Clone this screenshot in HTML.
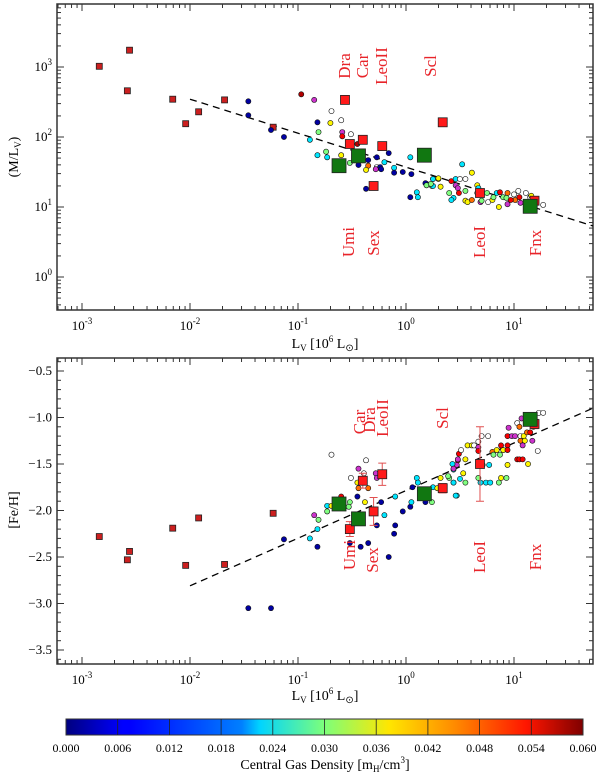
<!DOCTYPE html>
<html><head><meta charset="utf-8"><style>
html,body{margin:0;padding:0;background:#fff;}
svg{display:block;font-family:"Liberation Serif",serif;}
</style></head><body>
<svg id="chart" width="600" height="773" viewBox="0 0 600 773" xmlns="http://www.w3.org/2000/svg">
<defs>
<linearGradient id="jet" x1="0" x2="1" y1="0" y2="0">
<stop offset="0" stop-color="#00007f"/><stop offset="0.11" stop-color="#0000ff"/><stop offset="0.125" stop-color="#0000ff"/>
<stop offset="0.34" stop-color="#0080ff"/><stop offset="0.375" stop-color="#00d4ff"/><stop offset="0.5" stop-color="#7dff7a"/>
<stop offset="0.625" stop-color="#ffe600"/><stop offset="0.75" stop-color="#ff8c00"/><stop offset="0.89" stop-color="#ff1600"/><stop offset="1" stop-color="#7f0000"/>
</linearGradient>
</defs>
<g id="top"></g>
<g id="bot"></g>
<g id="cbar"></g>
</svg>
<script>
// ---------- data ----------
const smallLogL = [-2.84,-2.56,-2.58,-2.16,-2.04,-1.92,-1.68,-1.23];
const smallLogML = [3.01,3.24,2.66,2.54,2.19,2.36,2.53,2.14];
const smallFe = [-2.28,-2.44,-2.53,-2.19,-2.59,-2.08,-2.58,-2.03];
const galNames = ["Dra","Umi","Car","LeoII","Scl","Sex","LeoI","Fnx"];
const galLogL = [-0.565,-0.52,-0.40,-0.22,0.34,-0.30,0.685,1.19];
const galLogML = [2.53,1.90,1.96,1.87,2.21,1.30,1.20,1.09];
const galFe = [null,-2.20,-1.68,-1.61,-1.76,-2.01,-1.50,-1.07];
const galFeErr = [0,0.08,0.08,0.12,0.05,0.15,0.40,0.05];
const simLogL = [-0.62,-0.44,0.17,1.15];
const simLogML = [1.59,1.73,1.74,1.01];
const simFe = [-1.93,-2.09,-1.82,-1.02];
const fitTopX = [-2.0,1.73]; const fitTopY = [2.54,0.73];
const fitBotX = [-2.0,1.73]; const fitBotY = [-2.81,-0.90];
// model galaxies: density >0.06 means 0.07=magenta, 0.08=open
const mTopL = [-0.97,-0.85,-0.69,-0.60,-0.82,-0.70,-1.13,-0.81,-0.59,-0.59,-0.51,-0.89,-0.45,-0.82,-0.74,-0.73,-0.60,-0.52,-0.44,-0.35,-0.35,-0.37,-0.27,-0.27,-0.24,-0.28,-0.23,-0.20,-0.16,-0.11,-0.11,-0.03,0.05,0.04,-0.37,0.19,0.24,0.25,0.25,0.30,0.10,0.11,0.04,-1.46,-1.46,-1.25,
0.52,0.61,0.18,0.19,0.23,0.25,0.30,0.32,0.42,0.46,0.50,0.55,0.46,0.48,0.49,0.40,0.55,0.44,0.42,0.55,0.57,0.61,0.66,0.67,0.66,0.69,0.70,0.75,0.76,0.80,0.81,0.84,0.87,0.86,0.90,0.94,0.93,0.94,1.01,1.04,1.05,1.06,1.11,1.15,1.16,1.27,0.97,1.00];
const mTopML = [2.61,2.53,2.37,2.24,2.21,2.20,2.00,2.07,2.07,2.01,2.04,1.96,1.90,1.74,1.79,1.71,1.74,1.63,1.60,1.67,1.59,1.53,1.71,1.57,1.57,1.54,1.54,1.64,1.77,1.56,1.49,1.50,1.47,1.71,1.26,1.33,1.30,1.30,1.40,1.40,1.21,1.14,1.14,2.51,2.31,2.10,
1.61,1.49,1.34,1.31,1.33,1.40,1.41,1.29,1.37,1.40,1.40,1.40,1.31,1.27,1.20,1.20,1.23,1.13,1.10,1.09,1.07,1.10,1.31,1.27,1.20,1.07,1.09,1.20,1.07,1.10,1.14,1.20,1.21,1.00,1.14,1.20,1.13,1.04,1.10,1.23,1.14,1.06,1.20,1.14,1.16,1.03,1.10,1.18];
const mTopD = [0.057,0.07,0.08,0.08,0.002,0.038,0.002,0.030,0.07,0.053,0.08,0.021,0.057,0.021,0.030,0.021,0.038,0.030,0.002,0.002,0.046,0.038,0.002,0.08,0.002,0.07,0.002,0.021,0.002,0.021,0.002,0.002,0.002,0.021,0.002,0.002,0.030,0.021,0.021,0.038,0.021,0.021,0.002,0.002,0.002,0.002,
0.021,0.038,0.002,0.030,0.030,0.021,0.038,0.038,0.053,0.021,0.08,0.08,0.07,0.07,0.053,0.030,0.030,0.021,0.021,0.038,0.038,0.046,0.038,0.021,0.08,0.07,0.030,0.030,0.08,0.038,0.030,0.021,0.053,0.038,0.030,0.046,0.030,0.07,0.046,0.08,0.053,0.07,0.08,0.08,0.038,0.08,0.053,0.08];
const mBotL = [-0.69,-0.44,-0.37,-0.39,-0.51,-0.28,-0.27,-0.45,-0.44,-0.35,-0.73,-0.69,-0.73,-0.52,-0.53,-0.60,-0.85,-0.81,-0.82,-0.89,-0.82,-0.45,-0.38,-0.23,-0.20,-0.27,-0.10,-0.10,-0.11,-0.52,-0.42,-0.35,-0.16,-0.03,0.04,0.05,0.06,0.10,0.11,0.18,0.24,0.25,0.29,0.32,0.40,0.44,0.47,0.39,0.44,0.47,0.48,-1.46,-1.25,-1.13,
0.46,0.44,0.55,0.53,0.50,0.43,0.44,0.48,0.49,0.51,0.55,0.57,0.61,0.63,0.67,0.70,0.76,0.67,0.67,0.67,0.69,0.74,0.78,0.71,0.77,0.80,0.81,0.84,0.87,0.90,0.88,0.94,0.94,0.94,0.86,0.88,0.93,1.03,1.05,1.08,1.13,0.94,0.98,1.01,1.06,1.09,0.95,1.03,1.05,1.07,1.12,1.15,1.06,1.10,1.08,1.17,1.22,1.23,1.27,1.18];
const mBotFe = [-1.40,-1.55,-1.46,-1.60,-1.65,-1.60,-1.65,-1.70,-1.76,-1.76,-1.95,-1.95,-2.01,-1.91,-1.96,-1.85,-2.05,-2.10,-2.20,-2.30,-2.39,-1.85,-1.91,-1.91,-2.05,-2.16,-1.85,-2.16,-2.25,-2.35,-2.39,-2.35,-2.50,-2.01,-1.96,-1.91,-1.75,-1.65,-1.70,-1.91,-1.91,-1.75,-1.76,-1.65,-1.65,-1.70,-1.84,-1.63,-1.56,-1.51,-1.46,-3.05,-3.05,-2.31,
-1.84,-1.70,-1.70,-1.60,-1.66,-1.50,-1.55,-1.45,-1.39,-1.35,-1.45,-1.30,-1.30,-1.30,-1.26,-1.20,-1.20,-1.32,-1.36,-1.65,-1.70,-1.70,-1.70,-1.51,-1.51,-1.37,-1.40,-1.35,-1.40,-1.35,-1.30,-1.30,-1.35,-1.51,-1.70,-1.65,-1.65,-1.45,-1.45,-1.45,-1.50,-1.20,-1.20,-1.20,-1.20,-1.20,-1.11,-1.06,-1.10,-1.01,-1.16,-1.16,-1.25,-1.25,-1.30,-1.25,-1.36,-0.95,-0.95,-1.10];
const mBotD = [0.08,0.07,0.08,0.08,0.08,0.07,0.07,0.038,0.046,0.046,0.021,0.038,0.030,0.030,0.030,0.053,0.07,0.030,0.021,0.021,0.002,0.002,0.038,0.002,0.021,0.002,0.021,0.002,0.002,0.002,0.002,0.002,0.002,0.002,0.002,0.021,0.002,0.021,0.021,0.002,0.030,0.021,0.038,0.038,0.030,0.021,0.021,0.030,0.021,0.07,0.053,0.002,0.002,0.002,
0.021,0.021,0.030,0.038,0.021,0.021,0.07,0.07,0.053,0.08,0.038,0.038,0.038,0.08,0.08,0.08,0.08,0.07,0.053,0.030,0.021,0.021,0.021,0.030,0.021,0.046,0.030,0.038,0.030,0.038,0.053,0.053,0.053,0.038,0.030,0.038,0.030,0.053,0.053,0.053,0.038,0.053,0.07,0.07,0.08,0.038,0.07,0.08,0.046,0.07,0.046,0.053,0.046,0.038,0.07,0.07,0.08,0.08,0.08,0.08];
const cbTicks = ["0.000","0.006","0.012","0.018","0.024","0.030","0.036","0.042","0.048","0.054","0.060"];

// ---------- helpers ----------
const NS="http://www.w3.org/2000/svg";
function mk(tag,attrs,parent){const e=document.createElementNS(NS,tag);for(const k in attrs)e.setAttribute(k,attrs[k]);parent.appendChild(e);return e;}
const X0=57,X1=593;
const xs = lx => 82 + (lx+3)*108;
const yTop = ly => 67 + (3-ly)*70;
const yBot = fe => 371 + (-0.5-fe)*93;
function jet(v){const t=Math.max(0,Math.min(1,v/0.06));
 const f=x=>Math.max(0,Math.min(1,x));
 const r=f(1.5-Math.abs(4*t-3)),g=f(1.5-Math.abs(4*t-2)),b=f(1.5-Math.abs(4*t-1));
 return `rgb(${Math.round(r*255)},${Math.round(g*255)},${Math.round(b*255)})`;}
function dcol(d){ if(d>0.075) return "#ffffff"; if(d>0.065) return "#cc33cc"; return jet(d);}

function axes(g,y0,y1,yTicks,yLabelFn,yMinor,xlabY){
 const fr=mk('rect',{x:X0,y:y0,width:X1-X0,height:y1-y0,fill:'none',stroke:'#333',"stroke-width":1.5},g);
 
 for(let d=-4;d<=1;d++){for(let m=1;m<10;m++){const lx=d+Math.log10(m);const x=xs(lx);if(x<X0||x>X1)continue;
   const L=m===1?7:4;
   mk('line',{x1:x,x2:x,y1:y1,y2:y1-L,stroke:'#333'},g);mk('line',{x1:x,x2:x,y1:y0,y2:y0+L,stroke:'#333'},g);
   if(m===1){const t=mk('text',{x:x,y:xlabY,"text-anchor":"middle","font-size":13},g);t.innerHTML='10<tspan dy="-6" font-size="9">'+d+'</tspan>';
   }}}
 yMinor.forEach(y=>{mk('line',{x1:X0,x2:X0+4,y1:y,y2:y,stroke:'#333'},g);mk('line',{x1:X1,x2:X1-4,y1:y,y2:y,stroke:'#333'},g);});
 yTicks.forEach((v,i)=>{const y=yLabelFn.pos(v);mk('line',{x1:X0,x2:X0+7,y1:y,y2:y,stroke:'#333'},g);mk('line',{x1:X1,x2:X1-7,y1:y,y2:y,stroke:'#333'},g);
   const t=mk('text',{x:X0-5,y:y+4,"text-anchor":"end","font-size":13},g);t.innerHTML=yLabelFn.lab(v);
   });
}
function circles(g,L,V,D,ys){L.forEach((l,i)=>{const c=mk('circle',{cx:xs(l),cy:ys(V[i]),r:2.6,fill:dcol(D[i]),stroke:'#111',"stroke-width":0.6},g);
 });}
function squares(g,L,V,ys,s,fill,name){L.forEach((l,i)=>{if(V[i]==null)return;const r=mk('rect',{x:xs(l)-s/2,y:ys(V[i])-s/2,width:s,height:s,fill:fill,stroke:'#222',"stroke-width":0.8},g);
 });}
function dash(g,X,Y,ys){const l=mk('line',{x1:xs(X[0]),y1:ys(Y[0]),x2:xs(X[1]),y2:ys(Y[1]),stroke:'#000',"stroke-width":1.3,"stroke-dasharray":"7,5"},g);
 }
function label(g,txt,x,y){const t=mk('text',{x:x,y:y,"text-anchor":"middle","font-size":17,fill:"#e8242a",transform:`rotate(-90 ${x} ${y})`},g);t.textContent=txt;
 }

// ---------- top panel ----------
const gt=document.getElementById('top');
const topMinor=[];for(let d=-1;d<=3;d++)for(let m=2;m<10;m++){const y=yTop(d+Math.log10(m));if(y>4&&y<310)topMinor.push(y);}
axes(gt,4,310,[0,1,2,3],{pos:yTop,lab:v=>'10<tspan dy="-6" font-size="9">'+v+'</tspan>'},topMinor,330);
let t=mk('text',{x:18,y:157,"text-anchor":"middle","font-size":14,transform:"rotate(-90 18 157)"},gt);t.innerHTML='(M/L<tspan font-size="9" dy="3">V</tspan><tspan dy="-3">)</tspan>';

t=mk('text',{x:325,y:348,"text-anchor":"middle","font-size":14},gt);t.innerHTML='L<tspan font-size="9" dy="3">V</tspan><tspan dy="-3"> [10</tspan><tspan font-size="9" dy="-6">6</tspan><tspan dy="6"> L</tspan><tspan font-size="10" dy="3">⊙</tspan><tspan dy="-3">]</tspan>';

dash(gt,fitTopX,fitTopY,yTop);
squares(gt,smallLogL,smallLogML,yTop,6,'#cc1f1f','observed-dwarf-small');
circles(gt,mTopL,mTopML,mTopD,yTop);
squares(gt,galLogL,galLogML,yTop,9,'#ff1a1a','classical-dsph');
squares(gt,simLogL,simLogML,yTop,14,'#117711','simulated-galaxy');
[["Dra",345,66],["Car",363,66],["LeoII",382,66],["Scl",431,66],["Umi",349,242],["Sex",374,243],["LeoI",480,242],["Fnx",536,243]].forEach(a=>label(gt,a[0],a[1]+5,a[2]));

// ---------- bottom panel ----------
const gb=document.getElementById('bot');
const botMinor=[];for(let v=-3.6;v<=-0.35;v+=0.1){const y=yBot(v);if(y>358&&y<664)botMinor.push(y);}
axes(gb,358,664,[-0.5,-1,-1.5,-2,-2.5,-3,-3.5],{pos:yBot,lab:v=>'−'+Math.abs(v).toFixed(1)},botMinor,684);
t=mk('text',{x:18,y:510,"text-anchor":"middle","font-size":14,transform:"rotate(-90 18 510)"},gb);t.textContent='[Fe/H]';

t=mk('text',{x:325,y:700,"text-anchor":"middle","font-size":14},gb);t.innerHTML='L<tspan font-size="9" dy="3">V</tspan><tspan dy="-3"> [10</tspan><tspan font-size="9" dy="-6">6</tspan><tspan dy="6"> L</tspan><tspan font-size="10" dy="3">⊙</tspan><tspan dy="-3">]</tspan>';

dash(gb,fitBotX,fitBotY,yBot);
squares(gb,smallLogL,smallFe,yBot,6,'#cc1f1f','observed-dwarf-small');
circles(gb,mBotL,mBotFe,mBotD,yBot);
galLogL.forEach((l,i)=>{if(galFe[i]==null||!galFeErr[i])return;const x=xs(l);const a=yBot(galFe[i]+galFeErr[i]),b=yBot(galFe[i]-galFeErr[i]);
 const e=mk('path',{d:`M${x},${a}V${b}M${x-4},${a}H${x+4}M${x-4},${b}H${x+4}`,stroke:'#e05050',fill:'none',"stroke-width":1},gb);
 });
squares(gb,galLogL,galFe,yBot,9,'#ff1a1a','classical-dsph');
squares(gb,simLogL,simFe,yBot,14,'#117711','simulated-galaxy');
[["Car",360,422],["Dra",370,420],["LeoII",383,418],["Scl",443,418],["Umi",350,555],["Sex",373,560],["LeoI",480,557],["Fnx",536,557]].forEach(a=>label(gb,a[0],a[1]+5,a[2]));

// ---------- colorbar ----------
const gc=document.getElementById('cbar');
const cb=mk('rect',{x:66,y:719,width:517,height:16,fill:'url(#jet)',stroke:'#333',"stroke-width":1},gc);

cbTicks.forEach((s,i)=>{const x=66+517*i/(cbTicks.length-1);
 if(i>0&&i<cbTicks.length-1)mk('line',{x1:x,x2:x,y1:719,y2:735,stroke:'#222',"stroke-width":0.8},gc);
 const tt=mk('text',{x:x,y:752,"text-anchor":"middle","font-size":12},gc);tt.textContent=s;
 });
t=mk('text',{x:325,y:769,"text-anchor":"middle","font-size":14},gc);t.innerHTML='Central Gas Density [m<tspan font-size="9" dy="3">H</tspan><tspan dy="-3">/cm</tspan><tspan font-size="9" dy="-6">3</tspan><tspan dy="6">]</tspan>';

</script>
</body></html>
